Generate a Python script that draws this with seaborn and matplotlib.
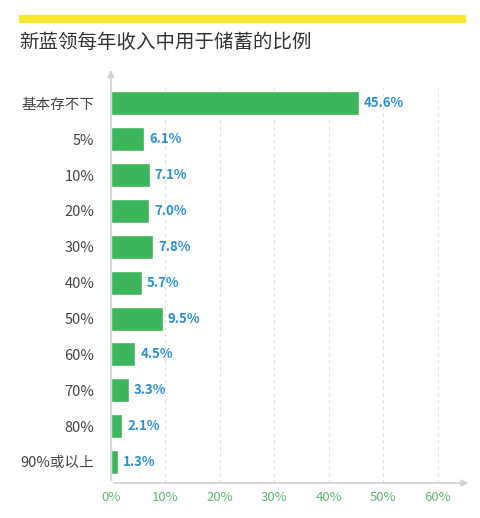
import numpy as np
import pandas as pd
import matplotlib
matplotlib.use("Agg")
import matplotlib.pyplot as plt
import seaborn as sns

# -----------------------------
# DATA
# -----------------------------
categories = ["基本存不下", "5%", "10%", "20%", "30%", "40%", "50%", "60%", "70%", "80%", "90%或以上"]
shares = [45.6, 6.1, 7.1, 7.0, 7.8, 5.7, 9.5, 4.5, 3.3, 2.1, 1.3]
x_ticks = [0, 10, 20, 30, 40, 50, 60]
x_tick_labels = ["0%", "10%", "20%", "30%", "40%", "50%", "60%"]

title = "新蓝领每年收入中用于储蓄的比例"

df = pd.DataFrame({"类别": categories, "比例": shares})

# -----------------------------
# STYLE
# -----------------------------
sns.set_theme(style="white")
plt.rcParams["font.family"] = ["Noto Sans CJK SC", "DejaVu Sans"]

bar_color = "#3db55c"
label_color = "#2b8fd6"
tick_green = "#5cb874"

fig = plt.figure(figsize=(4.8, 5.18), dpi=100)
ax = fig.add_axes([0.231, 0.0676, 0.715, 0.787])

sns.barplot(data=df, x="比例", y="类别", color=bar_color, width=0.67,
            saturation=1, ax=ax, orient="h")

ax.set_xlim(0, 63)
ax.set_ylim(10.585, -0.78)
ax.set_xlabel("")
ax.set_ylabel("")

# value labels
for i, v in enumerate(shares):
    ax.text(v + 0.9, i, f"{v}%", va="center", ha="left",
            fontsize=9.5, color=label_color, fontweight="bold")

# grid
for gx in x_ticks[1:]:
    ax.axvline(gx, ymin=0, ymax=0.97, color="#dedede", lw=0.8,
               ls=(0, (3, 3)), zorder=0)

for s in ["top", "right", "left", "bottom"]:
    ax.spines[s].set_visible(False)

# axis lines with arrows
ax.annotate("", xy=(0, 1.02), xytext=(0, 0), xycoords="axes fraction",
            arrowprops=dict(arrowstyle="-|>", color="#d0d0d0", lw=1.2,
                            mutation_scale=10), annotation_clip=False)
ax.annotate("", xy=(1.05, 0), xytext=(0, 0), xycoords="axes fraction",
            arrowprops=dict(arrowstyle="-|>", color="#d0d0d0", lw=1.2,
                            mutation_scale=10), annotation_clip=False)

ax.set_xticks(x_ticks)
ax.set_xticklabels(x_tick_labels, color=tick_green, fontsize=9.5)
ax.tick_params(axis="x", length=0, pad=6)
ax.tick_params(axis="y", length=0, pad=12, labelsize=10.5, labelcolor="#444444")

# yellow band + title
fig.patches.append(plt.Rectangle((19 / 480, 1 - 22 / 518), 446 / 480, 7 / 518,
                                 transform=fig.transFigure, color="#fbe62e"))
fig.text(19 / 480, 1 - 42 / 518, title, fontsize=14, color="#333333",
         va="center", ha="left")

plt.savefig("out.png", dpi=100)
